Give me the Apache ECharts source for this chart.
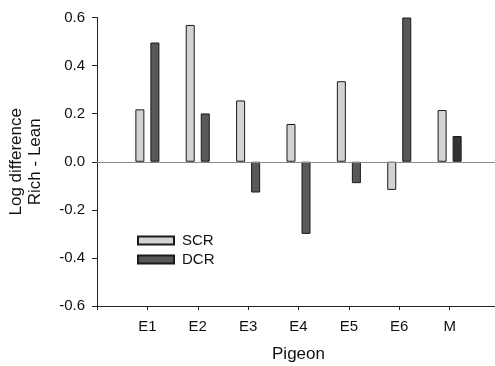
<!DOCTYPE html>
<html>
<head>
<meta charset="utf-8">
<script src="https://cdn.jsdelivr.net/npm/echarts@6/dist/echarts.min.js"></script>
<style>
  html, body { margin: 0; padding: 0; background: #fff; }
  #chart { width: 495px; height: 366px; }
</style>
</head>
<body>
<div id="chart"></div>
<script>
// pigeons on the x axis
var pigeons = ['E1', 'E2', 'E3', 'E4', 'E5', 'E6', 'M'];
// log difference rich - lean
var scr = [0.218, 0.569, 0.255, 0.157, 0.335, -0.117, 0.215];
var dcr = [0.496, 0.201, -0.128, -0.300, -0.089, 0.600, 0.107];
var yTicks = [-0.6, -0.4, -0.2, 0.0, 0.2, 0.4, 0.6];

var font = 'Liberation Sans, Arial, sans-serif';
var edge = '#1a1a1a';

// empty slot on each side so the ticks sit at 1..7 of 0..8
var cats = [''].concat(pigeons).concat(['']);
var scrData = ['-'].concat(scr).concat(['-']);
var dcrData = ['-'].concat(dcr.map(function (v, i) {
    // the mean bar is drawn darker
    if (pigeons[i] == 'M') return { value: v, itemStyle: { color: '#333333' } };
    return v;
})).concat(['-']);

var chart = echarts.init(document.getElementById('chart'));
chart.setOption({
    animation: false,
    grid: { left: 97, right: -5, top: 17.5, bottom: 60, containLabel: false, outerBoundsMode: 'none' },
    legend: {
        orient: 'vertical',
        left: 137,
        top: 233,
        padding: 0,
        icon: 'rect',
        itemWidth: 36,
        itemHeight: 8,
        itemGap: 4,
        textStyle: { fontFamily: font, fontSize: 15, color: '#111', padding: [0, 0, 0, 3] },
        data: ['SCR', 'DCR']
    },
    xAxis: {
        type: 'category',
        data: cats,
        boundaryGap: false,
        name: 'Pigeon',
        nameLocation: 'middle',
        nameGap: 40,
        nameTextStyle: { fontFamily: font, fontSize: 17, color: '#111' },
        axisLine: { onZero: false, lineStyle: { color: '#222', width: 1 } },
        axisTick: { length: 4, lineStyle: { color: '#222' } },
        axisLabel: { fontFamily: font, fontSize: 15, color: '#111', margin: 13, interval: 0 },
        splitLine: { show: false }
    },
    yAxis: {
        type: 'value',
        min: -0.6,
        max: 0.6,
        interval: 0.2,
        name: 'Log difference\nRich - Lean',
        nameLocation: 'middle',
        nameGap: 52,
        nameTextStyle: { fontFamily: font, fontSize: 17, color: '#111', lineHeight: 19 },
        axisLine: { show: true, lineStyle: { color: '#222', width: 1 } },
        axisTick: { show: true, length: 5, lineStyle: { color: '#222' } },
        axisLabel: {
            fontFamily: font, fontSize: 15, color: '#111', margin: 12,
            formatter: function (v) {
                var t = yTicks.filter(function (k) { return Math.abs(k - v) < 1e-6; })[0];
                return t === undefined ? '' : t.toFixed(1);
            }
        },
        splitLine: { show: false }
    },
    series: [
        {
            name: 'SCR',
            type: 'bar',
            data: scrData,
            barWidth: 9,
            barGap: '67%',
            itemStyle: { color: '#d3d3d3', borderColor: edge, borderWidth: 1 },
            markLine: {
                silent: true,
                symbol: 'none',
                label: { show: false },
                lineStyle: { color: '#8a8a8a', type: 'solid', width: 1 },
                data: [{ yAxis: 0 }]
            },
            z: 3
        },
        {
            name: 'DCR',
            type: 'bar',
            data: dcrData,
            barWidth: 9,
            barGap: '67%',
            itemStyle: { color: '#595959', borderColor: edge, borderWidth: 1 },
            z: 3
        }
    ]
});
</script>
</body>
</html>
